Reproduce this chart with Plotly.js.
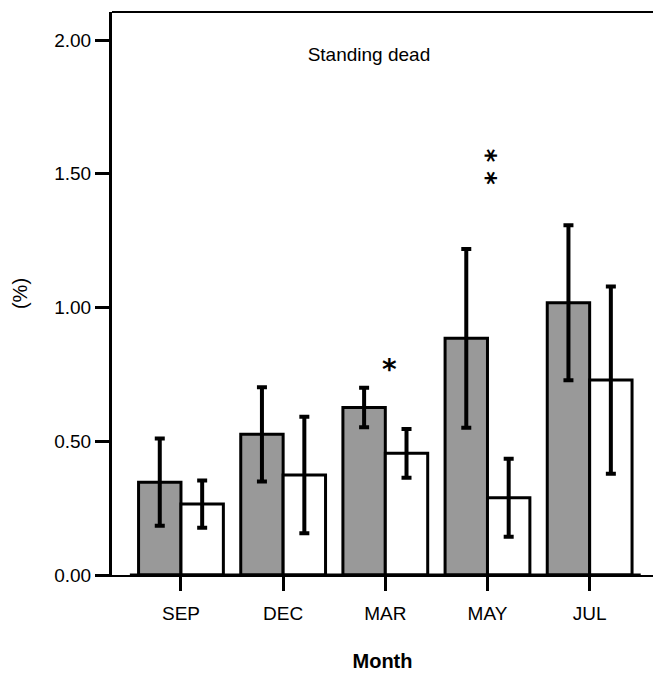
<!DOCTYPE html>
<html>
<head>
<meta charset="utf-8">
<script src="https://cdn.plot.ly/plotly-3.0.1.min.js"></script>
<style>html,body{margin:0;padding:0;background:#fff;}#chart{width:653px;height:675px;}</style>
</head>
<body>
<div id="chart"></div>
<script>
// Data
var months = ['SEP', 'DEC', 'MAR', 'MAY', 'JUL'];
var grayValues = [0.347, 0.526, 0.626, 0.885, 1.018];
var grayErrors = [0.163, 0.176, 0.074, 0.334, 0.290];
var whiteValues = [0.265, 0.374, 0.455, 0.289, 0.729];
var whiteErrors = [0.088, 0.218, 0.091, 0.146, 0.350];
var yTickValues = [0, 0.5, 1.0, 1.5, 2.0];
var sigMonths = ['MAR', 'MAY'];
var sigY = [0.79, 1.525];
var sigLabels = ['*', '**'];

var FONT = 'Liberation Sans, Arial, sans-serif';

var traces = [
  {
    type: 'bar', x: months, y: grayValues,
    marker: {color: '#999999', line: {color: '#000', width: 3}},
    error_y: {type: 'data', array: grayErrors, visible: true, color: '#000', thickness: 4, width: 5},
    hoverinfo: 'skip'
  },
  {
    type: 'bar', x: months, y: whiteValues,
    marker: {color: '#ffffff', line: {color: '#000', width: 3}},
    error_y: {type: 'data', array: whiteErrors, visible: true, color: '#000', thickness: 4, width: 5},
    hoverinfo: 'skip'
  }
];

// single stars are drawn upright; stacked stars are drawn as one rotated text
var annotations = sigMonths.map(function (m, i) {
  var stacked = sigLabels[i].length > 1;
  return {
    x: m, y: sigY[i], xref: 'x', yref: 'y',
    text: '<b>' + sigLabels[i].split('').join(' ') + '</b>', showarrow: false,
    textangle: stacked ? 90 : 0,
    xshift: stacked ? -2 : 4, yshift: stacked ? 0 : -6,
    font: {family: 'DejaVu Sans, sans-serif', size: stacked ? 26 : 28, color: '#000'},
    xanchor: 'center', yanchor: 'middle'
  };
});

var layout = {
  width: 653, height: 675,
  margin: {l: 112, r: 0, t: 12, b: 100, pad: 0},
  paper_bgcolor: '#fff', plot_bgcolor: '#fff',
  showlegend: false,
  barmode: 'group', bargap: 0.17, bargroupgap: 0,
  title: {
    text: 'Standing dead', xref: 'container', yref: 'container',
    x: 0.565, y: 0.92, xanchor: 'center', yanchor: 'middle',
    font: {family: FONT, size: 19, color: '#000'}
  },
  font: {family: FONT, size: 19, color: '#000'},
  xaxis: {
    type: 'category', range: [-0.675, 4.62],
    showgrid: false, zeroline: false,
    showline: true, linecolor: '#000', linewidth: 1.5,
    ticks: 'outside', ticklen: 14, tickwidth: 3, tickcolor: '#000',
    tickfont: {family: FONT, size: 19, color: '#000'},
    ticklabelstandoff: 7,
    title: {text: '<b>Month</b>', font: {family: FONT, size: 20, color: '#000'}, standoff: 30}
  },
  yaxis: {
    range: [0, 2.105],
    tickvals: yTickValues, tickformat: '.2f',
    showgrid: false, zeroline: false,
    showline: true, linecolor: '#000', linewidth: 3,
    ticks: 'outside', ticklen: 14, tickwidth: 3, tickcolor: '#000',
    tickfont: {family: FONT, size: 19, color: '#000'},
    ticklabelstandoff: 0,
    title: {text: '(%)', font: {family: FONT, size: 20, color: '#000'}, standoff: 22}
  },
  shapes: [
    {type: 'line', xref: 'paper', yref: 'paper', x0: 0, x1: 1, y0: 1, y1: 1, line: {color: '#000', width: 2}},
    {type: 'line', xref: 'x', yref: 'paper', x0: -0.5, x1: 4.5, y0: 0, y1: 0, line: {color: '#000', width: 3}}
  ],
  annotations: annotations
};

Plotly.newPlot('chart', traces, layout, {displayModeBar: false, staticPlot: true});
</script>
</body>
</html>
